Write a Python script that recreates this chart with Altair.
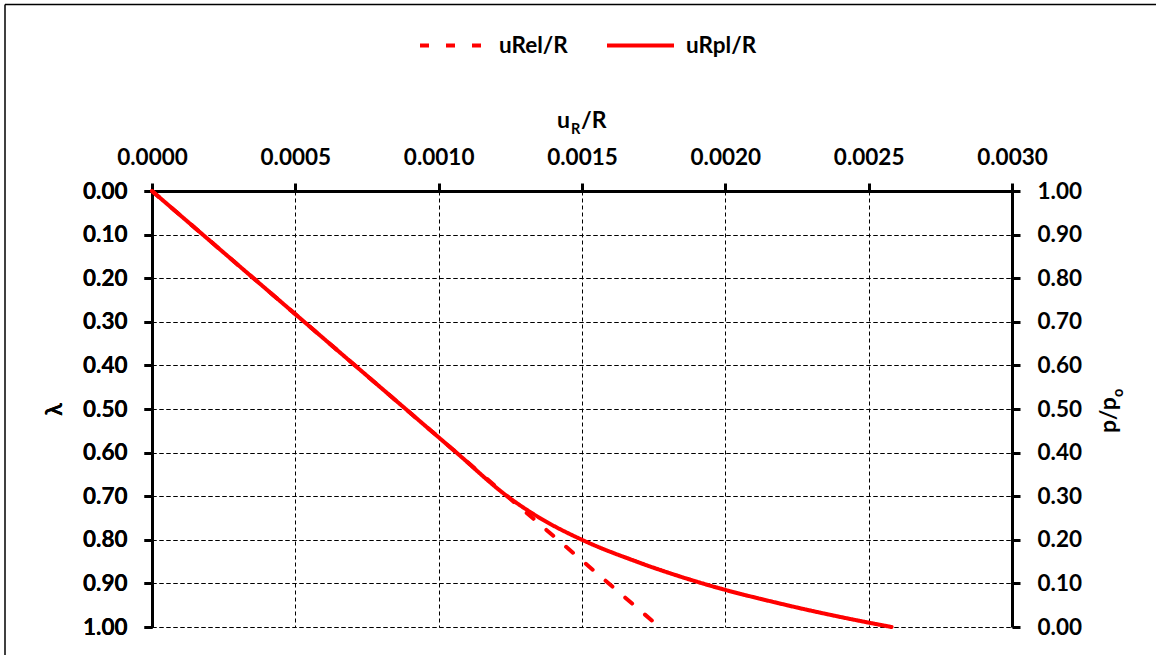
import altair as alt
import pandas as pd

FONT = "Lato"
FS = 22.5

# Radial displacement at the tunnel wall versus the load-reduction factor λ
series_names = ["uRel/R", "uRpl/R"]

lam_el = [0.0, 1.0]
u_el = [0.0, 0.00177]

lam_pl = [0.0, 0.1, 0.2, 0.3, 0.4, 0.5, 0.6, 0.7, 0.75, 0.8, 0.85, 0.9, 0.95, 0.99, 1.0]
u_pl = [0.0, 0.000177, 0.000354, 0.000531, 0.000708, 0.000885, 0.001062,
        0.001239, 0.001353, 0.0015, 0.00169, 0.00192, 0.002215, 0.0025, 0.00258]

x_ticks = [0.0, 0.0005, 0.001, 0.0015, 0.002, 0.0025, 0.003]
lam_ticks = [0.0, 0.1, 0.2, 0.3, 0.4, 0.5, 0.6, 0.7, 0.8, 0.9, 1.0]
p_ticks = [0.0, 0.1, 0.2, 0.3, 0.4, 0.5, 0.6, 0.7, 0.8, 0.9, 1.0]

el_df = pd.DataFrame({"u": u_el, "lam": lam_el, "series": series_names[0]})
pl_df = pd.DataFrame({"u": u_pl, "lam": lam_pl, "series": series_names[1]})
p_df = pd.DataFrame({"p": [p_ticks[0], p_ticks[-1]]})

common_axis = dict(
    labelFont=FONT, labelFontSize=FS, labelFontWeight="bold", labelColor="black",
    domainColor="black", domainWidth=3, tickColor="black", tickWidth=3, tickSize=8,
    labelOverlap=False, labelFlush=False,
)
grid_style = dict(grid=True, gridColor="black", gridWidth=1, gridDash=[4, 3], gridOpacity=1)

x_axis = alt.Axis(orient="top", values=x_ticks, format=".4f", labelPadding=14,
                  **grid_style, **common_axis)
lam_axis = alt.Axis(orient="left", values=lam_ticks, format=".2f", labelPadding=17,
                    title="λ", titleFont=FONT, titleFontSize=23, titleFontWeight="bold",
                    titleColor="black", titleAngle=270, titleX=-98, titleY=218,
                    titleAlign="center", titleBaseline="middle",
                    **grid_style, **common_axis)
p_axis = alt.Axis(orient="right", values=p_ticks, format=".2f", labelPadding=17,
                  grid=False, **common_axis)

x_scale = alt.Scale(domain=[0, 0.003], nice=False, zero=False)
lam_scale = alt.Scale(domain=[0, 1], reverse=True, nice=False, zero=False)
color_scale = alt.Scale(domain=series_names, range=["#ff0000", "#ff0000"])
dash_scale = alt.Scale(domain=series_names, range=[[9, 17], [1, 0]])

legend = alt.Legend(
    orient="none", legendX=266, legendY=-181, direction="horizontal", title=None,
    symbolType="stroke", symbolSize=4489, symbolStrokeWidth=4,
    labelFont=FONT, labelFontSize=FS, labelFontWeight="bold", labelColor="black",
    labelOffset=10, columnPadding=31, padding=0,
)


def curve(df):
    return alt.Chart(df).mark_line(strokeWidth=4, strokeCap="round", interpolate="monotone").encode(
        x=alt.X("u:Q", scale=x_scale, axis=x_axis, title=None),
        y=alt.Y("lam:Q", scale=lam_scale, axis=lam_axis),
        color=alt.Color("series:N", scale=color_scale, legend=legend),
        strokeDash=alt.StrokeDash("series:N", scale=dash_scale, legend=legend),
        order=alt.Order("lam:Q"),
    )


el_line = curve(el_df)
pl_line = curve(pl_df)

p_layer = alt.Chart(p_df).mark_point(opacity=0).encode(
    y=alt.Y("p:Q", scale=alt.Scale(domain=[0, 1], nice=False, zero=False), axis=p_axis, title=None),
)


def label(text, x, y, size, angle=0, align="left"):
    return alt.Chart(pd.DataFrame({"t": [text]})).mark_text(
        font=FONT, fontSize=size, fontWeight="bold", color="black",
        align=align, baseline="alphabetic", angle=angle,
    ).encode(x=alt.value(x), y=alt.value(y), text="t:N")


# top axis title u_R/R with a subscript
title_top = [
    label("u", 418, -63, 23, align="right"),
    label("R", 419, -57, 14.5),
    label("/R", 429, -63, 23),
]
# right axis title p/p_o, read bottom-to-top
title_right = [
    label("p/p", 964, 242, 23, angle=270),
    label("o", 971, 206, 14.5, angle=270),
]

frame_df = pd.DataFrame({"a": [0]})
frame_top = alt.Chart(frame_df).mark_rule(color="black", strokeWidth=1.5).encode(
    x=alt.value(-147), x2=alt.value(1010), y=alt.value(-186.5))
frame_left = alt.Chart(frame_df).mark_rule(color="black", strokeWidth=1.5).encode(
    x=alt.value(-147), y=alt.value(-186.5), y2=alt.value(470))

chart = alt.layer(
    el_line, pl_line, p_layer, *title_top, *title_right, frame_top, frame_left,
).resolve_scale(y="independent").properties(
    width=860, height=436,
    autosize=alt.AutoSizeParams(type="none"),
    padding={"left": 152, "top": 191, "right": 144, "bottom": 28},
    background="white",
).configure_view(strokeWidth=0)

chart.save("out.html", embed_options={"renderer": "svg", "actions": False})
